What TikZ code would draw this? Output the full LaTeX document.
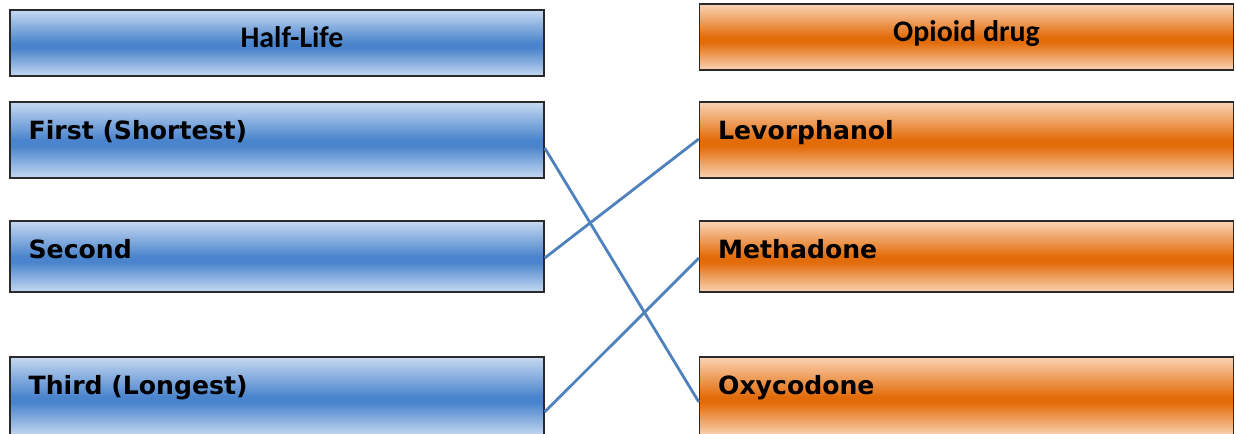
\documentclass[tikz,border=0pt]{standalone}
\usepackage{fontspec}
\setmainfont{DejaVu Sans}
\newfontfamily\headfont{Carlito}
\usetikzlibrary{positioning}

\newlength\pxl
\setlength\pxl{0.02cm}
\definecolor{bluelt}{HTML}{C6D9F1}
\definecolor{bluedk}{HTML}{4A84CD}
\definecolor{orglt}{HTML}{FAD3B4}
\definecolor{orgdk}{HTML}{E36C0A}
\definecolor{linkblue}{HTML}{4F81BD}
\definecolor{edgegray}{HTML}{2A2A2A}
\pgfdeclareverticalshading{blueband}{100bp}{color(0bp)=(bluelt); color(25bp)=(bluelt); color(46bp)=(bluedk); color(50bp)=(bluedk); color(75bp)=(bluelt); color(100bp)=(bluelt)}
\pgfdeclareverticalshading{orgband}{100bp}{color(0bp)=(orglt); color(25bp)=(orglt); color(46bp)=(orgdk); color(50bp)=(orgdk); color(75bp)=(orglt); color(100bp)=(orglt)}

\begin{document}
\begin{tikzpicture}[x=0.02cm, y=-0.02cm,
  box/.style={draw=edgegray, line width=0.8pt, minimum width=534\pxl, inner sep=0pt},
  halfbox/.style={box, shading=blueband},
  drugbox/.style={box, shading=orgband},
  lbl/.style={font=\fontsize{14.3}{17}\selectfont\bfseries, anchor=base west, inner sep=0pt},
  head/.style={font=\headfont\fontsize{17}{20}\selectfont\bfseries, anchor=base, inner sep=0pt},
  link/.style={draw=linkblue, line width=1.6pt}]
\useasboundingbox (0,0) rectangle (1236,433);

% headers
\node[halfbox, minimum height=66\pxl] (half) at (277,43) {};
\node[head] (halfhead) at ([xshift=15\pxl, yshift=-38\pxl]half.north) {Half-Life};
\node[drugbox, minimum height=66\pxl] (drug) at (966.5,37) {};
\node[head] (drughead) at ([yshift=-38\pxl]drug.north) {Opioid drug};

% rows
\node[halfbox, minimum height=76\pxl] (first) at (277,140) {};
\node[halfbox, minimum height=71\pxl] (second) at (277,256.5) {};
\node[halfbox, minimum height=79\pxl] (third) at (277,396.5) {};
\node[drugbox, minimum height=76\pxl] (levo) at (966.5,140) {};
\node[drugbox, minimum height=71\pxl] (metha) at (966.5,256.5) {};
\node[drugbox, minimum height=79\pxl] (oxy) at (966.5,396.5) {};

\foreach \b/\t in {first/First (Shortest), second/Second, third/Third (Longest),
                   levo/Levorphanol, metha/Methadone, oxy/Oxycodone}
  \node[lbl] (\b lbl) at ([xshift=19\pxl, yshift=-38\pxl]\b.north west) {\t};

% matches
\draw[link] ([yshift=-8\pxl]first.east) -- ([yshift=-5.5\pxl]oxy.west);
\draw[link] ([yshift=-1.5\pxl]second.east) -- ([yshift=1\pxl]levo.west);
\draw[link] ([yshift=-15.5\pxl]third.east) -- ([yshift=-1.5\pxl]metha.west);
\end{tikzpicture}
\end{document}
